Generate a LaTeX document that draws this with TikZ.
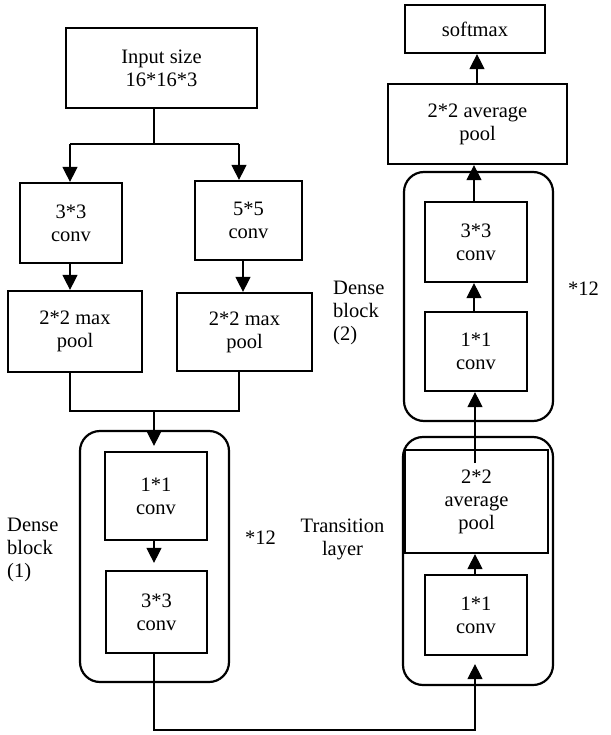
\documentclass[tikz,border=0pt]{standalone}
\usepackage{fontspec}
\setmainfont{Liberation Serif}
\newfontfamily\diagfont{Liberation Serif}
\usetikzlibrary{arrows.meta,calc}
\begin{document}
\begin{tikzpicture}[x=1pt,y=-1pt,
  txt/.style={font=\diagfont\fontsize{20.5}{23}\selectfont, inner sep=0pt, align=center},
  box/.style args={#1/#2}{txt, draw, line width=2.2pt, minimum width=#1pt, minimum height=#2pt},
  block/.style args={#1/#2}{draw, line width=2.2pt, rounded corners=20pt, minimum width=#1pt, minimum height=#2pt, inner sep=0pt},
  conn/.style={line width=1.1pt},
  arr/.style={conn, -{Triangle[length=15pt,width=15pt]}}
]
\useasboundingbox (0,0) rectangle (610,735);
% container blocks
\node[block=149/251] (db1) at (154.5,556.5) {};
\node[block=150/248] (tl) at (478,561) {};
\node[block=149/249] (db2) at (478.5,296.5) {};
% boxes
\node[box=191/80] (input) at (161.5,68) {Input size\\16*16*3};
\node[box=102/80] (c3) at (71,223) {3*3\\conv};
\node[box=107/79] (c5) at (248.5,220.5) {5*5\\conv};
\node[box=134/81] (mp1) at (75,331.5) {2*2 max\\pool};
\node[box=135/78] (mp2) at (244.5,332) {2*2 max\\pool};
\node[box=102/88] (a11) at (156,496) {1*1\\conv};
\node[box=101/82] (a33) at (156.5,612) {3*3\\conv};
\node[box=143/103] (tpool) at (476.5,501.5) {2*2\\average\\pool};
\node[box=102/80] (t11) at (476,615) {1*1\\conv};
\node[box=102/79] (d11) at (476,351.5) {1*1\\conv};
\node[box=102/80] (d33) at (476,242) {3*3\\conv};
\node[box=179/80] (apool) at (477.5,124) {2*2 average\\pool};
\node[box=140/48] (soft) at (475,29) {softmax};
% labels
\node[txt, align=left, anchor=west] (lbl1) at (7,550) {Dense\\block\\(1)};
\node[txt, anchor=west] (rep1) at (245,538) {*12};
\node[txt] (tlab) at (342.5,539) {Transition\\layer};
\node[txt, align=left, anchor=west] (lbl2) at (333,313) {Dense\\block\\(2)};
\node[txt, anchor=west] (rep2) at (568,289) {*12};
% coordinates
\coordinate (jt) at (154,144);
\coordinate (jl) at (70,144);
\coordinate (jr) at (239,144);
\coordinate (kr) at (243,0);
\coordinate (bl) at (70,411);
\coordinate (br) at (239,411);
\coordinate (bm) at (154,411);
\coordinate (bot) at (154,730);
\coordinate (botr) at (475,730);
\coordinate (dx) at (474,0);
\coordinate (sx) at (477,0);
\coordinate (tin) at (475,463);
% connectors
\draw[conn] (input.south -| jt) -- (jt);
\draw[conn] (jl) -- (jr);
\draw[arr] (jl) -- (jl |- c3.north);
\draw[arr] (jr) -- (jr |- c5.north);
\draw[arr] (c3.south -| jl) -- (mp1.north -| jl);
\draw[arr] (c5.south -| kr) -- (mp2.north -| kr);
\draw[conn] (mp1.south -| bl) -- (bl) -- (br) -- (mp2.south -| br);
\draw[arr, shorten >=5pt] (bm) -- (a11.north -| bm);
\draw[arr, shorten >=7pt] (a11.south -| bm) -- (a33.north -| bm);
\draw[arr, shorten >=8pt] (a33.south -| bot) -- (bot) -- (botr) -- (t11.south -| botr);
\draw[arr] (t11.north -| botr) -- (tpool.south -| botr);
\draw[arr] (tin) -- (d11.south -| tin);
\draw[arr] (d11.north -| dx) -- (d33.south -| dx);
\draw[arr] (d33.north -| dx) -- (apool.south -| dx);
\draw[arr] (apool.north -| sx) -- (soft.south -| sx);
\end{tikzpicture}
\end{document}
